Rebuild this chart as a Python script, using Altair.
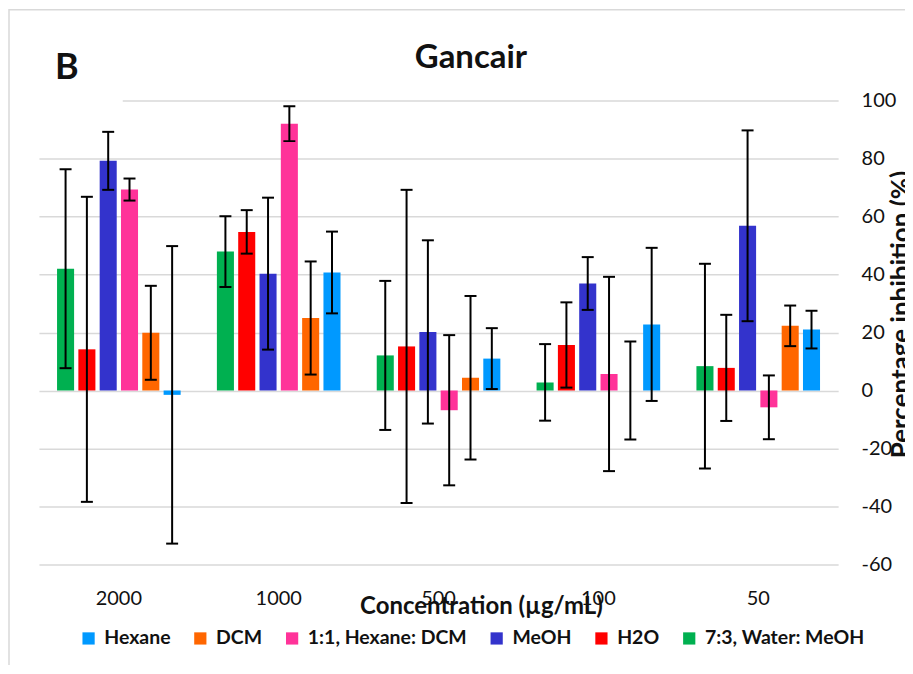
import altair as alt
import pandas as pd

categories = ["2000", "1000", "500", "100", "50"]
bar_order = ["7:3, Water: MeOH", "H2O", "MeOH", "1:1, Hexane: DCM", "DCM", "Hexane"]
legend_order = ["Hexane", "DCM", "1:1, Hexane: DCM", "MeOH", "H2O", "7:3, Water: MeOH"]
legend_colors = ["#0099FF", "#FF6600", "#FF3399", "#3333CC", "#FF0000", "#00B050"]

values = {
    "7:3, Water: MeOH": [42.0, 47.9, 12.1, 2.8, 8.4],
    "H2O": [14.2, 54.7, 15.2, 15.7, 7.8],
    "MeOH": [79.2, 40.3, 20.2, 36.9, 56.8],
    "1:1, Hexane: DCM": [69.3, 92.0, -6.8, 5.7, -5.8],
    "DCM": [19.9, 25.0, 4.4, 0.0, 22.3],
    "Hexane": [-1.5, 40.7, 11.0, 22.8, 21.0],
}
errors = {
    "7:3, Water: MeOH": [34.3, 12.2, 25.7, 13.2, 35.3],
    "H2O": [52.6, 7.5, 54.0, 14.7, 18.3],
    "MeOH": [10.0, 26.2, 31.6, 9.1, 32.9],
    "1:1, Hexane: DCM": [3.8, 6.0, 25.9, 33.5, 11.0],
    "DCM": [16.2, 19.5, 28.2, 16.9, 7.0],
    "Hexane": [51.3, 14.1, 10.5, 26.4, 6.5],
}
y_ticks = [-60, -40, -20, 0, 20, 40, 60, 80, 100]

rows = []
for s in bar_order:
    for c, v, e in zip(categories, values[s], errors[s]):
        rows.append({"conc": c, "series": s, "value": v, "lo": v - e, "hi": v + e})
df = pd.DataFrame(rows)

FONT = "Lato"
TXT = "#111111"

x_enc = alt.X(
    "conc:N",
    sort=categories,
    scale=alt.Scale(paddingInner=0, paddingOuter=0),
    axis=alt.Axis(
        title="Concentration (µg/mL)",
        labelAngle=0,
        domain=False,
        ticks=False,
        tickSize=0,
        labelFontSize=20,
        labelColor=TXT,
        labelBaseline="alphabetic",
        labelPadding=40,
        titleFontSize=24,
        titleFontWeight="bold",
        titleColor=TXT,
        titleAnchor="start",
        titleAlign="center",
        titleX=443,
        titleY=49,
        titleBaseline="alphabetic",
    ),
)
xo_enc = alt.XOffset(
    "series:N", sort=bar_order, scale=alt.Scale(paddingInner=0.2, paddingOuter=0.85)
)
y_scale = alt.Scale(domain=[-60, 100], nice=False)

base = alt.Chart(df).encode(x=x_enc, xOffset=xo_enc)

bars = base.mark_bar().encode(
    y=alt.Y(
        "value:Q",
        scale=y_scale,
        axis=alt.Axis(
            orient="right",
            values=y_ticks,
            labelExpr="datum.value + ''",
            grid=True,
            gridColor="#D9D9D9",
            gridWidth=1.5,
            domain=False,
            ticks=False,
            tickSize=0,
            labelFontSize=20,
            labelColor=TXT,
            labelAlign="left",
            labelPadding=23,
            title="Percentage inhibition (%)",
            titleFontSize=26,
            titleFontWeight="bold",
            titleColor=TXT,
            titleAngle=270,
            titleAlign="center",
            titleBaseline="top",
            titleX=51,
            titleY=214,
        ),
    ),
    color=alt.Color(
        "series:N",
        scale=alt.Scale(domain=legend_order, range=legend_colors),
        legend=alt.Legend(
            title=None,
            orient="none",
            direction="horizontal",
            legendX=40,
            legendY=529,
            symbolType="square",
            symbolSize=150,
            symbolStrokeWidth=0,
            symbolOpacity=1,
            labelFontSize=19.5,
            labelFontWeight="bold",
            labelColor=TXT,
            labelOffset=6,
            columnPadding=20,
            padding=0,
        ),
    ),
)

rules = base.mark_rule(color="black", strokeWidth=2).encode(
    y=alt.Y("lo:Q", scale=y_scale), y2="hi:Q"
)
cap_hi = base.mark_tick(color="black", thickness=2, size=12, opacity=1).encode(
    y=alt.Y("hi:Q", scale=y_scale)
)
cap_lo = base.mark_tick(color="black", thickness=2, size=12, opacity=1).encode(
    y=alt.Y("lo:Q", scale=y_scale)
)

one = pd.DataFrame({"t": ["B"]})

# chart-area border (Excel style)
border = alt.Chart(one).mark_rect(
    fill="white", fillOpacity=0, stroke="#D9D9D9", strokeWidth=1.5
).encode(x=alt.value(-30), x2=alt.value(1200), y=alt.value(-91), y2=alt.value(900))

# text box of the panel letter covering the top gridline
mask = alt.Chart(one).mark_rect(fill="white").encode(
    x=alt.value(-20), x2=alt.value(84), y=alt.value(-60), y2=alt.value(3)
)

label_b = alt.Chart(one).mark_text(
    font=FONT, fontSize=36, fontWeight="bold", color=TXT, align="left", baseline="alphabetic"
).encode(text="t:N", x=alt.value(16), y=alt.value(-22))

title_txt = alt.Chart(pd.DataFrame({"t": ["Gancair"]})).mark_text(
    font=FONT, fontSize=33, fontWeight="bold", color=TXT, align="center", baseline="alphabetic"
).encode(text="t:N", x=alt.value(433), y=alt.value(-33))

chart = (
    alt.layer(border, bars, rules, cap_hi, cap_lo, mask, label_b, title_txt)
    .properties(
        width=801,
        height=465,
        autosize=alt.AutoSizeParams(type="none"),
        padding={"left": 31, "top": 92, "right": 67, "bottom": 100},
    )
    .configure(font=FONT)
    .configure_view(stroke=None)
)

chart.save("out.html", embed_options={"renderer": "svg", "actions": False})
